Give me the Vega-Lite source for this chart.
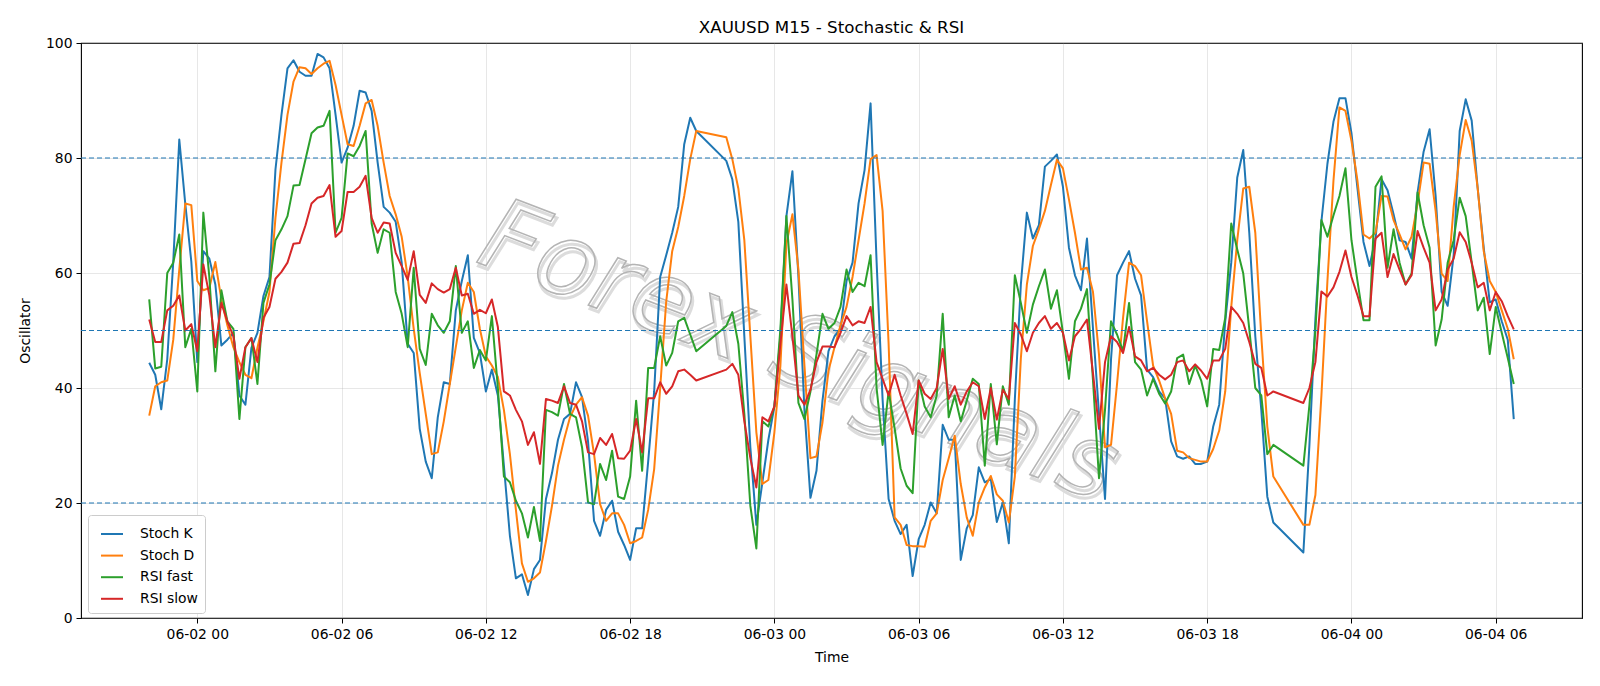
{
"$schema":"https://vega.github.io/schema/vega-lite/v6.json",
"width":1501,"height":575,
"autosize":{"type":"none"},
"padding":{"left":81,"top":43,"right":18,"bottom":68},
"background":"white",
"title":{"text":"XAUUSD M15 - Stochastic & RSI","fontSize":16.7,"font":"DejaVu Sans","fontWeight":"normal","anchor":"middle","offset":-1,"color":"black"},
"config":{"view":{"stroke":"black","strokeWidth":1.1},"font":"DejaVu Sans"},
"datasets":{
"levels":[{"level":20},{"level":50},{"level":80}],
"wm":[{"t":"2025-06-03T01:00Z","v":46,"label":"Forex Signals"}],
"osc":[
{"t":"2025-06-01T22:00Z","Stoch K":44.4,"Stoch D":35.2,"RSI fast":55.4,"RSI slow":51.9},
{"t":"2025-06-01T22:15Z","Stoch K":42.3,"Stoch D":40.3,"RSI fast":43.4,"RSI slow":48.0},
{"t":"2025-06-01T22:30Z","Stoch K":36.3,"Stoch D":41.0,"RSI fast":43.7,"RSI slow":48.0},
{"t":"2025-06-01T22:45Z","Stoch K":45.0,"Stoch D":41.3,"RSI fast":60.0,"RSI slow":53.5},
{"t":"2025-06-01T23:00Z","Stoch K":62.0,"Stoch D":48.4,"RSI fast":61.8,"RSI slow":54.3},
{"t":"2025-06-01T23:15Z","Stoch K":83.2,"Stoch D":60.6,"RSI fast":66.7,"RSI slow":56.1},
{"t":"2025-06-01T23:30Z","Stoch K":72.0,"Stoch D":72.1,"RSI fast":47.1,"RSI slow":50.0},
{"t":"2025-06-01T23:45Z","Stoch K":62.0,"Stoch D":71.8,"RSI fast":50.3,"RSI slow":51.1},
{"t":"2025-06-02T00:00Z","Stoch K":44.5,"Stoch D":58.6,"RSI fast":39.4,"RSI slow":46.4},
{"t":"2025-06-02T00:15Z","Stoch K":63.8,"Stoch D":57.0,"RSI fast":70.5,"RSI slow":61.5},
{"t":"2025-06-02T00:30Z","Stoch K":62.5,"Stoch D":57.4,"RSI fast":59.3,"RSI slow":56.1},
{"t":"2025-06-02T00:45Z","Stoch K":58.0,"Stoch D":61.9,"RSI fast":42.9,"RSI slow":47.1},
{"t":"2025-06-02T01:00Z","Stoch K":47.4,"Stoch D":55.4,"RSI fast":57.0,"RSI slow":54.8},
{"t":"2025-06-02T01:15Z","Stoch K":48.4,"Stoch D":50.9,"RSI fast":51.6,"RSI slow":51.6},
{"t":"2025-06-02T01:30Z","Stoch K":49.6,"Stoch D":47.1,"RSI fast":50.3,"RSI slow":49.0},
{"t":"2025-06-02T01:45Z","Stoch K":38.7,"Stoch D":44.5,"RSI fast":34.6,"RSI slow":41.6},
{"t":"2025-06-02T02:00Z","Stoch K":37.1,"Stoch D":42.3,"RSI fast":47.1,"RSI slow":47.1},
{"t":"2025-06-02T02:15Z","Stoch K":47.0,"Stoch D":41.7,"RSI fast":48.7,"RSI slow":48.7},
{"t":"2025-06-02T02:30Z","Stoch K":49.6,"Stoch D":47.0,"RSI fast":40.7,"RSI slow":44.5},
{"t":"2025-06-02T02:45Z","Stoch K":56.0,"Stoch D":51.6,"RSI fast":54.8,"RSI slow":52.2},
{"t":"2025-06-02T03:00Z","Stoch K":59.3,"Stoch D":56.7,"RSI fast":58.0,"RSI slow":54.1},
{"t":"2025-06-02T03:15Z","Stoch K":78.0,"Stoch D":69.6,"RSI fast":65.7,"RSI slow":59.0},
{"t":"2025-06-02T03:30Z","Stoch K":87.5,"Stoch D":79.2,"RSI fast":67.6,"RSI slow":60.2},
{"t":"2025-06-02T03:45Z","Stoch K":95.6,"Stoch D":87.5,"RSI fast":69.9,"RSI slow":61.8},
{"t":"2025-06-02T04:00Z","Stoch K":97.0,"Stoch D":93.3,"RSI fast":75.2,"RSI slow":65.1},
{"t":"2025-06-02T04:15Z","Stoch K":95.0,"Stoch D":95.8,"RSI fast":75.3,"RSI slow":65.2},
{"t":"2025-06-02T04:30Z","Stoch K":94.3,"Stoch D":95.6,"RSI fast":79.8,"RSI slow":68.3},
{"t":"2025-06-02T04:45Z","Stoch K":94.3,"Stoch D":94.6,"RSI fast":84.3,"RSI slow":72.1},
{"t":"2025-06-02T05:00Z","Stoch K":98.1,"Stoch D":95.6,"RSI fast":85.3,"RSI slow":73.1},
{"t":"2025-06-02T05:15Z","Stoch K":97.5,"Stoch D":96.4,"RSI fast":85.6,"RSI slow":73.4},
{"t":"2025-06-02T05:30Z","Stoch K":95.6,"Stoch D":96.9,"RSI fast":88.2,"RSI slow":75.3},
{"t":"2025-06-02T05:45Z","Stoch K":87.5,"Stoch D":92.7,"RSI fast":67.0,"RSI slow":66.3},
{"t":"2025-06-02T06:00Z","Stoch K":79.2,"Stoch D":87.5,"RSI fast":69.6,"RSI slow":67.3},
{"t":"2025-06-02T06:15Z","Stoch K":81.8,"Stoch D":82.4,"RSI fast":80.8,"RSI slow":74.1},
{"t":"2025-06-02T06:30Z","Stoch K":85.6,"Stoch D":82.1,"RSI fast":80.3,"RSI slow":74.1},
{"t":"2025-06-02T06:45Z","Stoch K":91.7,"Stoch D":85.6,"RSI fast":82.1,"RSI slow":75.0},
{"t":"2025-06-02T07:00Z","Stoch K":91.4,"Stoch D":89.5,"RSI fast":84.7,"RSI slow":76.9},
{"t":"2025-06-02T07:15Z","Stoch K":88.2,"Stoch D":90.1,"RSI fast":68.6,"RSI slow":69.6},
{"t":"2025-06-02T07:30Z","Stoch K":79.2,"Stoch D":85.6,"RSI fast":63.5,"RSI slow":67.0},
{"t":"2025-06-02T07:45Z","Stoch K":71.5,"Stoch D":79.2,"RSI fast":67.6,"RSI slow":68.8},
{"t":"2025-06-02T08:00Z","Stoch K":70.5,"Stoch D":73.4,"RSI fast":67.0,"RSI slow":68.6},
{"t":"2025-06-02T08:15Z","Stoch K":68.9,"Stoch D":70.2,"RSI fast":56.7,"RSI slow":63.5},
{"t":"2025-06-02T08:30Z","Stoch K":61.8,"Stoch D":66.3,"RSI fast":52.9,"RSI slow":61.2},
{"t":"2025-06-02T08:45Z","Stoch K":47.7,"Stoch D":59.3,"RSI fast":47.1,"RSI slow":58.8},
{"t":"2025-06-02T09:00Z","Stoch K":46.1,"Stoch D":50.3,"RSI fast":60.9,"RSI slow":63.8},
{"t":"2025-06-02T09:15Z","Stoch K":32.9,"Stoch D":42.6,"RSI fast":46.8,"RSI slow":56.2},
{"t":"2025-06-02T09:30Z","Stoch K":27.2,"Stoch D":35.5,"RSI fast":44.0,"RSI slow":54.8},
{"t":"2025-06-02T09:45Z","Stoch K":24.3,"Stoch D":28.5,"RSI fast":52.9,"RSI slow":58.2},
{"t":"2025-06-02T10:00Z","Stoch K":34.9,"Stoch D":28.8,"RSI fast":50.9,"RSI slow":57.2},
{"t":"2025-06-02T10:15Z","Stoch K":41.0,"Stoch D":34.2,"RSI fast":49.6,"RSI slow":56.6},
{"t":"2025-06-02T10:30Z","Stoch K":40.7,"Stoch D":40.7,"RSI fast":51.6,"RSI slow":57.2},
{"t":"2025-06-02T10:45Z","Stoch K":53.5,"Stoch D":47.1,"RSI fast":61.2,"RSI slow":60.9},
{"t":"2025-06-02T11:00Z","Stoch K":58.6,"Stoch D":53.5,"RSI fast":49.6,"RSI slow":56.1},
{"t":"2025-06-02T11:15Z","Stoch K":63.1,"Stoch D":58.3,"RSI fast":51.6,"RSI slow":56.4},
{"t":"2025-06-02T11:30Z","Stoch K":48.7,"Stoch D":56.7,"RSI fast":43.5,"RSI slow":52.9},
{"t":"2025-06-02T11:45Z","Stoch K":46.1,"Stoch D":50.3,"RSI fast":46.6,"RSI slow":53.6},
{"t":"2025-06-02T12:00Z","Stoch K":39.4,"Stoch D":45.5,"RSI fast":44.8,"RSI slow":53.0},
{"t":"2025-06-02T12:15Z","Stoch K":43.2,"Stoch D":43.9,"RSI fast":52.5,"RSI slow":55.4},
{"t":"2025-06-02T12:30Z","Stoch K":38.7,"Stoch D":41.9,"RSI fast":40.0,"RSI slow":50.6},
{"t":"2025-06-02T12:45Z","Stoch K":26.5,"Stoch D":36.2,"RSI fast":24.6,"RSI slow":39.4},
{"t":"2025-06-02T13:00Z","Stoch K":14.3,"Stoch D":28.5,"RSI fast":23.6,"RSI slow":38.7},
{"t":"2025-06-02T13:15Z","Stoch K":6.9,"Stoch D":18.8,"RSI fast":20.4,"RSI slow":36.2},
{"t":"2025-06-02T13:30Z","Stoch K":7.6,"Stoch D":9.5,"RSI fast":18.2,"RSI slow":34.2},
{"t":"2025-06-02T13:45Z","Stoch K":4.0,"Stoch D":6.3,"RSI fast":14.0,"RSI slow":30.1},
{"t":"2025-06-02T14:00Z","Stoch K":8.5,"Stoch D":6.9,"RSI fast":19.3,"RSI slow":32.3},
{"t":"2025-06-02T14:15Z","Stoch K":10.1,"Stoch D":7.9,"RSI fast":13.4,"RSI slow":26.8},
{"t":"2025-06-02T14:30Z","Stoch K":20.7,"Stoch D":13.4,"RSI fast":36.2,"RSI slow":38.1},
{"t":"2025-06-02T14:45Z","Stoch K":25.2,"Stoch D":19.5,"RSI fast":35.8,"RSI slow":37.8},
{"t":"2025-06-02T15:00Z","Stoch K":31.0,"Stoch D":26.5,"RSI fast":35.2,"RSI slow":37.4},
{"t":"2025-06-02T15:15Z","Stoch K":34.6,"Stoch D":31.0,"RSI fast":40.7,"RSI slow":40.3},
{"t":"2025-06-02T15:30Z","Stoch K":35.5,"Stoch D":34.9,"RSI fast":35.5,"RSI slow":37.4},
{"t":"2025-06-02T15:45Z","Stoch K":41.0,"Stoch D":37.1,"RSI fast":34.9,"RSI slow":37.1},
{"t":"2025-06-02T16:00Z","Stoch K":38.4,"Stoch D":38.4,"RSI fast":29.7,"RSI slow":34.2},
{"t":"2025-06-02T16:15Z","Stoch K":30.7,"Stoch D":35.2,"RSI fast":20.1,"RSI slow":28.8},
{"t":"2025-06-02T16:30Z","Stoch K":16.9,"Stoch D":28.5,"RSI fast":19.8,"RSI slow":28.5},
{"t":"2025-06-02T16:45Z","Stoch K":14.3,"Stoch D":19.8,"RSI fast":26.8,"RSI slow":31.3},
{"t":"2025-06-02T17:00Z","Stoch K":18.8,"Stoch D":16.9,"RSI fast":24.0,"RSI slow":30.1},
{"t":"2025-06-02T17:15Z","Stoch K":20.4,"Stoch D":18.2,"RSI fast":29.1,"RSI slow":32.0},
{"t":"2025-06-02T17:30Z","Stoch K":15.0,"Stoch D":18.2,"RSI fast":21.1,"RSI slow":27.8},
{"t":"2025-06-02T17:45Z","Stoch K":12.7,"Stoch D":16.2,"RSI fast":20.7,"RSI slow":27.7},
{"t":"2025-06-02T18:00Z","Stoch K":10.1,"Stoch D":13.0,"RSI fast":24.6,"RSI slow":29.1},
{"t":"2025-06-02T18:15Z","Stoch K":15.6,"Stoch D":13.4,"RSI fast":37.8,"RSI slow":34.6},
{"t":"2025-06-02T18:30Z","Stoch K":15.6,"Stoch D":14.0,"RSI fast":25.6,"RSI slow":28.8},
{"t":"2025-06-02T18:45Z","Stoch K":27.2,"Stoch D":18.8,"RSI fast":43.5,"RSI slow":38.2},
{"t":"2025-06-02T19:00Z","Stoch K":39.4,"Stoch D":25.9,"RSI fast":43.5,"RSI slow":38.2},
{"t":"2025-06-02T19:15Z","Stoch K":59.3,"Stoch D":40.0,"RSI fast":49.0,"RSI slow":41.0},
{"t":"2025-06-02T19:30Z","Stoch K":63.1,"Stoch D":55.0,"RSI fast":43.9,"RSI slow":39.0},
{"t":"2025-06-02T19:45Z","Stoch K":67.0,"Stoch D":63.8,"RSI fast":46.1,"RSI slow":40.3},
{"t":"2025-06-02T20:00Z","Stoch K":71.5,"Stoch D":68.0,"RSI fast":51.6,"RSI slow":42.9},
{"t":"2025-06-02T20:15Z","Stoch K":82.4,"Stoch D":73.4,"RSI fast":52.2,"RSI slow":43.2},
{"t":"2025-06-02T20:30Z","Stoch K":87.0,"Stoch D":79.8,"RSI fast":49.3,"RSI slow":42.3},
{"t":"2025-06-02T20:45Z","Stoch K":84.7,"Stoch D":84.7,"RSI fast":46.4,"RSI slow":41.3},
{"t":"2025-06-02T22:00Z","Stoch K":79.5,"Stoch D":83.6,"RSI fast":50.8,"RSI slow":43.2},
{"t":"2025-06-02T22:15Z","Stoch K":76.3,"Stoch D":79.8,"RSI fast":53.2,"RSI slow":44.2},
{"t":"2025-06-02T22:30Z","Stoch K":68.9,"Stoch D":74.7,"RSI fast":47.7,"RSI slow":42.3},
{"t":"2025-06-02T22:45Z","Stoch K":49.0,"Stoch D":65.7,"RSI fast":35.5,"RSI slow":34.2},
{"t":"2025-06-02T23:00Z","Stoch K":29.7,"Stoch D":49.0,"RSI fast":19.5,"RSI slow":27.8},
{"t":"2025-06-02T23:15Z","Stoch K":16.2,"Stoch D":32.3,"RSI fast":12.1,"RSI slow":22.7},
{"t":"2025-06-02T23:30Z","Stoch K":23.6,"Stoch D":23.3,"RSI fast":34.2,"RSI slow":34.9},
{"t":"2025-06-02T23:45Z","Stoch K":31.0,"Stoch D":24.0,"RSI fast":33.3,"RSI slow":34.2},
{"t":"2025-06-03T00:00Z","Stoch K":36.8,"Stoch D":32.3,"RSI fast":36.8,"RSI slow":36.8},
{"t":"2025-06-03T00:15Z","Stoch K":49.0,"Stoch D":43.9,"RSI fast":50.3,"RSI slow":47.7},
{"t":"2025-06-03T00:30Z","Stoch K":69.9,"Stoch D":65.1,"RSI fast":69.9,"RSI slow":58.0},
{"t":"2025-06-03T00:45Z","Stoch K":77.7,"Stoch D":70.2,"RSI fast":55.4,"RSI slow":49.0},
{"t":"2025-06-03T01:00Z","Stoch K":59.3,"Stoch D":60.6,"RSI fast":37.4,"RSI slow":38.7},
{"t":"2025-06-03T01:15Z","Stoch K":36.2,"Stoch D":43.9,"RSI fast":34.6,"RSI slow":37.1},
{"t":"2025-06-03T01:30Z","Stoch K":20.9,"Stoch D":27.8,"RSI fast":39.4,"RSI slow":39.7},
{"t":"2025-06-03T01:45Z","Stoch K":25.6,"Stoch D":28.1,"RSI fast":45.8,"RSI slow":44.5},
{"t":"2025-06-03T02:00Z","Stoch K":37.8,"Stoch D":34.0,"RSI fast":52.9,"RSI slow":47.2},
{"t":"2025-06-03T02:15Z","Stoch K":46.4,"Stoch D":43.0,"RSI fast":50.3,"RSI slow":47.2},
{"t":"2025-06-03T02:30Z","Stoch K":49.0,"Stoch D":47.1,"RSI fast":51.3,"RSI slow":47.1},
{"t":"2025-06-03T02:45Z","Stoch K":50.3,"Stoch D":50.9,"RSI fast":54.1,"RSI slow":49.6},
{"t":"2025-06-03T03:00Z","Stoch K":58.6,"Stoch D":54.1,"RSI fast":60.6,"RSI slow":52.5},
{"t":"2025-06-03T03:15Z","Stoch K":61.8,"Stoch D":59.3,"RSI fast":56.7,"RSI slow":50.9},
{"t":"2025-06-03T03:30Z","Stoch K":72.1,"Stoch D":65.7,"RSI fast":58.3,"RSI slow":51.6},
{"t":"2025-06-03T03:45Z","Stoch K":77.9,"Stoch D":72.1,"RSI fast":57.7,"RSI slow":51.3},
{"t":"2025-06-03T04:00Z","Stoch K":89.5,"Stoch D":79.8,"RSI fast":63.1,"RSI slow":54.1},
{"t":"2025-06-03T04:15Z","Stoch K":62.0,"Stoch D":80.5,"RSI fast":40.0,"RSI slow":44.5},
{"t":"2025-06-03T04:30Z","Stoch K":38.0,"Stoch D":70.8,"RSI fast":30.1,"RSI slow":41.6},
{"t":"2025-06-03T04:45Z","Stoch K":20.7,"Stoch D":47.7,"RSI fast":39.4,"RSI slow":38.7},
{"t":"2025-06-03T05:00Z","Stoch K":16.9,"Stoch D":17.5,"RSI fast":33.0,"RSI slow":42.3},
{"t":"2025-06-03T05:15Z","Stoch K":14.6,"Stoch D":16.2,"RSI fast":26.0,"RSI slow":38.7},
{"t":"2025-06-03T05:30Z","Stoch K":16.2,"Stoch D":12.7,"RSI fast":23.0,"RSI slow":35.5},
{"t":"2025-06-03T05:45Z","Stoch K":7.3,"Stoch D":12.5,"RSI fast":21.7,"RSI slow":32.0},
{"t":"2025-06-03T06:00Z","Stoch K":13.7,"Stoch D":12.5,"RSI fast":41.3,"RSI slow":41.3},
{"t":"2025-06-03T06:15Z","Stoch K":16.2,"Stoch D":12.4,"RSI fast":36.8,"RSI slow":39.0},
{"t":"2025-06-03T06:30Z","Stoch K":20.1,"Stoch D":16.9,"RSI fast":34.9,"RSI slow":38.1},
{"t":"2025-06-03T06:45Z","Stoch K":18.2,"Stoch D":18.2,"RSI fast":38.7,"RSI slow":40.0},
{"t":"2025-06-03T07:00Z","Stoch K":33.6,"Stoch D":24.0,"RSI fast":52.9,"RSI slow":46.8},
{"t":"2025-06-03T07:15Z","Stoch K":31.0,"Stoch D":27.8,"RSI fast":34.9,"RSI slow":38.1},
{"t":"2025-06-03T07:30Z","Stoch K":31.0,"Stoch D":31.7,"RSI fast":38.7,"RSI slow":40.3},
{"t":"2025-06-03T07:45Z","Stoch K":10.1,"Stoch D":23.3,"RSI fast":34.2,"RSI slow":37.1},
{"t":"2025-06-03T08:00Z","Stoch K":15.6,"Stoch D":17.5,"RSI fast":37.8,"RSI slow":39.4},
{"t":"2025-06-03T08:15Z","Stoch K":17.9,"Stoch D":14.3,"RSI fast":41.6,"RSI slow":41.0},
{"t":"2025-06-03T08:30Z","Stoch K":26.2,"Stoch D":20.1,"RSI fast":40.7,"RSI slow":40.3},
{"t":"2025-06-03T08:45Z","Stoch K":23.6,"Stoch D":22.7,"RSI fast":26.5,"RSI slow":34.6},
{"t":"2025-06-03T09:00Z","Stoch K":24.2,"Stoch D":24.7,"RSI fast":40.7,"RSI slow":40.0},
{"t":"2025-06-03T09:15Z","Stoch K":16.7,"Stoch D":21.5,"RSI fast":30.2,"RSI slow":34.5},
{"t":"2025-06-03T09:30Z","Stoch K":20.1,"Stoch D":20.4,"RSI fast":40.3,"RSI slow":39.7},
{"t":"2025-06-03T09:45Z","Stoch K":13.0,"Stoch D":16.6,"RSI fast":37.1,"RSI slow":38.1},
{"t":"2025-06-03T10:00Z","Stoch K":38.0,"Stoch D":24.6,"RSI fast":59.6,"RSI slow":51.3},
{"t":"2025-06-03T10:15Z","Stoch K":58.0,"Stoch D":45.2,"RSI fast":54.8,"RSI slow":49.3},
{"t":"2025-06-03T10:30Z","Stoch K":70.5,"Stoch D":58.0,"RSI fast":49.6,"RSI slow":46.4},
{"t":"2025-06-03T10:45Z","Stoch K":66.0,"Stoch D":64.7,"RSI fast":54.5,"RSI slow":49.6},
{"t":"2025-06-03T11:00Z","Stoch K":68.3,"Stoch D":67.6,"RSI fast":57.7,"RSI slow":51.3},
{"t":"2025-06-03T11:15Z","Stoch K":78.5,"Stoch D":70.8,"RSI fast":60.6,"RSI slow":52.5},
{"t":"2025-06-03T11:30Z","Stoch K":79.5,"Stoch D":75.3,"RSI fast":53.8,"RSI slow":50.3},
{"t":"2025-06-03T11:45Z","Stoch K":80.6,"Stoch D":79.7,"RSI fast":57.0,"RSI slow":51.3},
{"t":"2025-06-03T12:00Z","Stoch K":75.0,"Stoch D":78.2,"RSI fast":49.6,"RSI slow":49.6},
{"t":"2025-06-03T12:15Z","Stoch K":64.4,"Stoch D":72.8,"RSI fast":41.6,"RSI slow":44.8},
{"t":"2025-06-03T12:30Z","Stoch K":59.6,"Stoch D":67.0,"RSI fast":51.6,"RSI slow":49.0},
{"t":"2025-06-03T12:45Z","Stoch K":57.0,"Stoch D":60.6,"RSI fast":53.8,"RSI slow":50.3},
{"t":"2025-06-03T13:00Z","Stoch K":66.0,"Stoch D":60.9,"RSI fast":57.2,"RSI slow":51.9},
{"t":"2025-06-03T13:15Z","Stoch K":50.3,"Stoch D":56.7,"RSI fast":41.3,"RSI slow":42.6},
{"t":"2025-06-03T13:30Z","Stoch K":35.5,"Stoch D":45.8,"RSI fast":24.3,"RSI slow":32.9},
{"t":"2025-06-03T13:45Z","Stoch K":20.7,"Stoch D":29.7,"RSI fast":36.2,"RSI slow":44.5},
{"t":"2025-06-03T14:00Z","Stoch K":45.0,"Stoch D":30.1,"RSI fast":51.6,"RSI slow":49.0},
{"t":"2025-06-03T14:15Z","Stoch K":59.6,"Stoch D":40.7,"RSI fast":49.3,"RSI slow":48.0},
{"t":"2025-06-03T14:30Z","Stoch K":61.8,"Stoch D":52.2,"RSI fast":46.4,"RSI slow":46.1},
{"t":"2025-06-03T14:45Z","Stoch K":63.8,"Stoch D":61.8,"RSI fast":54.8,"RSI slow":50.6},
{"t":"2025-06-03T15:00Z","Stoch K":59.0,"Stoch D":61.2,"RSI fast":44.5,"RSI slow":45.5},
{"t":"2025-06-03T15:15Z","Stoch K":56.1,"Stoch D":59.6,"RSI fast":43.2,"RSI slow":44.8},
{"t":"2025-06-03T15:30Z","Stoch K":43.2,"Stoch D":51.6,"RSI fast":38.7,"RSI slow":42.9},
{"t":"2025-06-03T15:45Z","Stoch K":41.9,"Stoch D":43.9,"RSI fast":41.6,"RSI slow":43.5},
{"t":"2025-06-03T16:00Z","Stoch K":39.4,"Stoch D":41.3,"RSI fast":39.0,"RSI slow":42.3},
{"t":"2025-06-03T16:15Z","Stoch K":38.2,"Stoch D":38.2,"RSI fast":37.3,"RSI slow":41.5},
{"t":"2025-06-03T16:30Z","Stoch K":30.7,"Stoch D":35.5,"RSI fast":39.4,"RSI slow":42.3},
{"t":"2025-06-03T16:45Z","Stoch K":28.1,"Stoch D":29.1,"RSI fast":45.2,"RSI slow":44.5},
{"t":"2025-06-03T17:00Z","Stoch K":27.7,"Stoch D":28.8,"RSI fast":45.8,"RSI slow":44.8},
{"t":"2025-06-03T17:15Z","Stoch K":28.1,"Stoch D":27.8,"RSI fast":40.7,"RSI slow":42.9},
{"t":"2025-06-03T17:30Z","Stoch K":26.8,"Stoch D":27.5,"RSI fast":43.9,"RSI slow":44.1},
{"t":"2025-06-03T17:45Z","Stoch K":26.8,"Stoch D":27.2,"RSI fast":41.3,"RSI slow":43.0},
{"t":"2025-06-03T18:00Z","Stoch K":27.2,"Stoch D":27.2,"RSI fast":36.8,"RSI slow":41.6},
{"t":"2025-06-03T18:15Z","Stoch K":33.3,"Stoch D":29.4,"RSI fast":46.8,"RSI slow":44.8},
{"t":"2025-06-03T18:30Z","Stoch K":37.1,"Stoch D":32.6,"RSI fast":46.6,"RSI slow":44.8},
{"t":"2025-06-03T18:45Z","Stoch K":51.6,"Stoch D":39.4,"RSI fast":52.2,"RSI slow":46.8},
{"t":"2025-06-03T19:00Z","Stoch K":61.8,"Stoch D":54.1,"RSI fast":68.6,"RSI slow":54.1},
{"t":"2025-06-03T19:15Z","Stoch K":76.6,"Stoch D":65.7,"RSI fast":64.1,"RSI slow":52.9},
{"t":"2025-06-03T19:30Z","Stoch K":81.4,"Stoch D":74.7,"RSI fast":59.9,"RSI slow":51.3},
{"t":"2025-06-03T19:45Z","Stoch K":67.0,"Stoch D":75.0,"RSI fast":50.3,"RSI slow":48.0},
{"t":"2025-06-03T20:00Z","Stoch K":49.0,"Stoch D":67.0,"RSI fast":40.0,"RSI slow":44.2},
{"t":"2025-06-03T20:15Z","Stoch K":36.2,"Stoch D":49.0,"RSI fast":38.7,"RSI slow":43.5},
{"t":"2025-06-03T20:30Z","Stoch K":21.1,"Stoch D":33.3,"RSI fast":28.5,"RSI slow":38.7},
{"t":"2025-06-03T20:45Z","Stoch K":16.6,"Stoch D":24.6,"RSI fast":30.1,"RSI slow":39.4},
{"t":"2025-06-03T22:00Z","Stoch K":11.4,"Stoch D":16.2,"RSI fast":26.5,"RSI slow":37.4},
{"t":"2025-06-03T22:15Z","Stoch K":30.0,"Stoch D":16.2,"RSI fast":37.0,"RSI slow":40.0},
{"t":"2025-06-03T22:30Z","Stoch K":52.0,"Stoch D":21.4,"RSI fast":50.0,"RSI slow":44.5},
{"t":"2025-06-03T22:45Z","Stoch K":69.0,"Stoch D":38.7,"RSI fast":69.2,"RSI slow":56.8},
{"t":"2025-06-03T23:00Z","Stoch K":79.0,"Stoch D":58.6,"RSI fast":66.3,"RSI slow":55.9},
{"t":"2025-06-03T23:15Z","Stoch K":86.3,"Stoch D":76.0,"RSI fast":70.0,"RSI slow":57.5},
{"t":"2025-06-03T23:30Z","Stoch K":90.4,"Stoch D":88.8,"RSI fast":73.4,"RSI slow":60.2},
{"t":"2025-06-03T23:45Z","Stoch K":90.4,"Stoch D":88.2,"RSI fast":78.2,"RSI slow":63.9},
{"t":"2025-06-04T00:00Z","Stoch K":84.3,"Stoch D":83.0,"RSI fast":65.7,"RSI slow":59.3},
{"t":"2025-06-04T00:15Z","Stoch K":74.7,"Stoch D":76.0,"RSI fast":58.6,"RSI slow":56.1},
{"t":"2025-06-04T00:30Z","Stoch K":65.4,"Stoch D":66.7,"RSI fast":51.8,"RSI slow":52.5},
{"t":"2025-06-04T00:45Z","Stoch K":61.2,"Stoch D":66.0,"RSI fast":51.8,"RSI slow":52.5},
{"t":"2025-06-04T01:00Z","Stoch K":66.0,"Stoch D":67.0,"RSI fast":75.0,"RSI slow":66.0},
{"t":"2025-06-04T01:15Z","Stoch K":76.3,"Stoch D":73.4,"RSI fast":76.8,"RSI slow":67.0},
{"t":"2025-06-04T01:30Z","Stoch K":74.4,"Stoch D":73.3,"RSI fast":60.9,"RSI slow":59.3},
{"t":"2025-06-04T01:45Z","Stoch K":70.2,"Stoch D":69.2,"RSI fast":67.6,"RSI slow":63.3},
{"t":"2025-06-04T02:00Z","Stoch K":65.7,"Stoch D":66.7,"RSI fast":61.8,"RSI slow":60.6},
{"t":"2025-06-04T02:15Z","Stoch K":65.4,"Stoch D":64.1,"RSI fast":58.0,"RSI slow":58.0},
{"t":"2025-06-04T02:30Z","Stoch K":62.5,"Stoch D":66.3,"RSI fast":59.9,"RSI slow":59.6},
{"t":"2025-06-04T02:45Z","Stoch K":74.0,"Stoch D":72.1,"RSI fast":74.0,"RSI slow":67.3},
{"t":"2025-06-04T03:00Z","Stoch K":81.1,"Stoch D":79.2,"RSI fast":68.3,"RSI slow":64.4},
{"t":"2025-06-04T03:15Z","Stoch K":85.0,"Stoch D":79.0,"RSI fast":64.4,"RSI slow":61.8},
{"t":"2025-06-04T03:30Z","Stoch K":73.4,"Stoch D":70.8,"RSI fast":47.4,"RSI slow":53.5},
{"t":"2025-06-04T03:45Z","Stoch K":56.7,"Stoch D":59.9,"RSI fast":51.9,"RSI slow":55.4},
{"t":"2025-06-04T04:00Z","Stoch K":54.3,"Stoch D":58.6,"RSI fast":61.8,"RSI slow":60.6},
{"t":"2025-06-04T04:15Z","Stoch K":63.1,"Stoch D":71.5,"RSI fast":65.7,"RSI slow":62.5},
{"t":"2025-06-04T04:30Z","Stoch K":84.7,"Stoch D":80.5,"RSI fast":73.1,"RSI slow":67.1},
{"t":"2025-06-04T04:45Z","Stoch K":90.2,"Stoch D":86.6,"RSI fast":69.9,"RSI slow":65.4},
{"t":"2025-06-04T05:00Z","Stoch K":86.5,"Stoch D":83.0,"RSI fast":61.8,"RSI slow":61.8},
{"t":"2025-06-04T05:15Z","Stoch K":74.7,"Stoch D":74.7,"RSI fast":53.5,"RSI slow":57.5},
{"t":"2025-06-04T05:30Z","Stoch K":64.4,"Stoch D":63.8,"RSI fast":55.7,"RSI slow":58.3},
{"t":"2025-06-04T05:45Z","Stoch K":54.9,"Stoch D":58.6,"RSI fast":45.9,"RSI slow":53.5},
{"t":"2025-06-04T06:00Z","Stoch K":55.4,"Stoch D":56.7,"RSI fast":54.1,"RSI slow":56.7},
{"t":"2025-06-04T06:15Z","Stoch K":51.6,"Stoch D":53.5,"RSI fast":49.6,"RSI slow":55.1},
{"t":"2025-06-04T06:30Z","Stoch K":48.4,"Stoch D":50.3,"RSI fast":45.2,"RSI slow":52.5},
{"t":"2025-06-04T06:45Z","Stoch K":34.6,"Stoch D":45.0,"RSI fast":40.7,"RSI slow":50.2}
]},
"layer":[
{"data":{"name":"wm"},
 "mark":{"type":"text","angle":21,"fontSize":100,"font":"DejaVu Sans","fontStyle":"italic","fill":"transparent","stroke":"#dcdcdc","strokeWidth":3,"dx":3,"dy":3,"align":"center","baseline":"middle"},
 "encoding":{"x":{"field":"t","type":"temporal"},"y":{"field":"v","type":"quantitative"},"text":{"field":"label"}}},
{"data":{"name":"wm"},
 "mark":{"type":"text","angle":21,"fontSize":100,"font":"DejaVu Sans","fontStyle":"italic","fill":"transparent","stroke":"#b4b4b4","strokeWidth":1.5,"align":"center","baseline":"middle"},
 "encoding":{"x":{"field":"t","type":"temporal"},"y":{"field":"v","type":"quantitative"},"text":{"field":"label"}}},
{"data":{"name":"osc"},
 "transform":[{"fold":["Stoch K","Stoch D","RSI fast","RSI slow"],"as":["series","value"]}],
 "mark":{"type":"line","strokeWidth":2,"strokeJoin":"round"},
 "encoding":{
  "x":{"field":"t","type":"temporal","title":"Time",
   "scale":{"type":"utc","domain":[{"year":2025,"month":6,"date":1,"hours":19,"minutes":9,"seconds":45,"utc":true},{"year":2025,"month":6,"date":4,"hours":9,"minutes":35,"seconds":15,"utc":true}]},
   "axis":{"values":[
     {"year":2025,"month":6,"date":2,"hours":0,"utc":true},{"year":2025,"month":6,"date":2,"hours":6,"utc":true},
     {"year":2025,"month":6,"date":2,"hours":12,"utc":true},{"year":2025,"month":6,"date":2,"hours":18,"utc":true},
     {"year":2025,"month":6,"date":3,"hours":0,"utc":true},{"year":2025,"month":6,"date":3,"hours":6,"utc":true},
     {"year":2025,"month":6,"date":3,"hours":12,"utc":true},{"year":2025,"month":6,"date":3,"hours":18,"utc":true},
     {"year":2025,"month":6,"date":4,"hours":0,"utc":true},{"year":2025,"month":6,"date":4,"hours":6,"utc":true}],
    "labelExpr":"utcFormat(datum.value, '%m-%d %H')",
    "grid":true,"gridColor":"#b0b0b0","gridOpacity":0.3,"gridWidth":1,
    "domain":false,"tickColor":"black","tickSize":5,"tickWidth":1,
    "labelFont":"DejaVu Sans","labelFontSize":13.9,"labelColor":"black","labelPadding":4,"labelFlush":false,
    "titleFont":"DejaVu Sans","titleFontSize":13.9,"titleFontWeight":"normal","titleColor":"black","titlePadding":10}},
  "y":{"field":"value","type":"quantitative","title":"Oscillator",
   "scale":{"domain":[0,100],"nice":false,"zero":false},
   "axis":{"values":[0,20,40,60,80,100],"grid":true,"gridColor":"#b0b0b0","gridOpacity":0.3,"gridWidth":1,
    "domain":false,"tickColor":"black","tickSize":5,"tickWidth":1,
    "labelFont":"DejaVu Sans","labelFontSize":13.9,"labelColor":"black","labelPadding":4,"labelFlush":false,
    "titleFont":"DejaVu Sans","titleFontSize":13.9,"titleFontWeight":"normal","titleColor":"black","titlePadding":13}},
  "color":{"field":"series","type":"nominal",
   "scale":{"domain":["Stoch K","Stoch D","RSI fast","RSI slow"],"range":["#1f77b4","#ff7f0e","#2ca02c","#d62728"]},
   "legend":{"title":null,"orient":"none","legendX":7,"legendY":472,"symbolType":"stroke","symbolSize":484,"symbolStrokeWidth":2,"symbolOffset":5,
    "labelFont":"DejaVu Sans","labelFontSize":13.9,"labelColor":"black","labelOffset":16,"padding":7,"rowPadding":2.6,
    "labelExpr":"datum.label + '   '",
    "strokeColor":"#cccccc","fillColor":"white","cornerRadius":3}}
 }},
{"data":{"name":"levels"},
 "mark":{"type":"rule","color":"#1f77b4","strokeWidth":1.2,"strokeDash":[5,3]},
 "encoding":{"y":{"field":"level","type":"quantitative","title":"Oscillator"}}}
]
}
